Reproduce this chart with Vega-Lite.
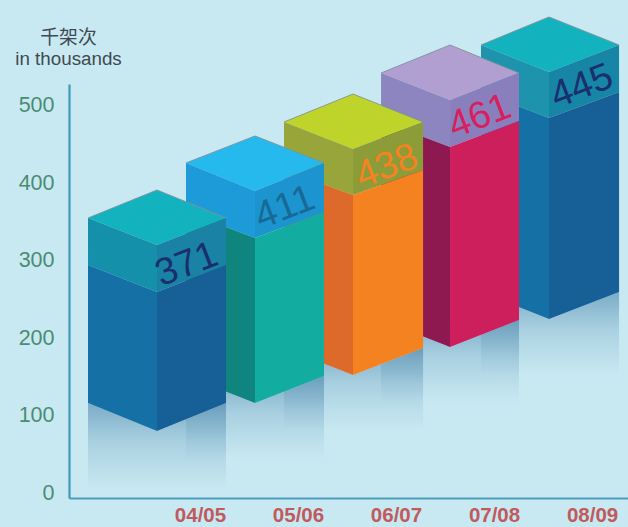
{"$schema":"https://vega.github.io/schema/vega-lite/v6.json","width":559,"height":414,"autosize":{"type":"none"},"padding":{"left":69,"top":84,"right":0,"bottom":29},"background":"#c8e9f2","config":{"view":{"stroke":null}},
"datasets":{
"reflections":[
{"bar":"08/09","x":3.867,"y":258.4,"y2":151.2},{"bar":"08/09","x":4.561,"y":223.5,"y2":151.2},{"bar":"08/09","x":5.276,"y":258.4,"y2":151.2},
{"bar":"07/08","x":2.847,"y":222.2,"y2":115.0},{"bar":"07/08","x":3.551,"y":187.3,"y2":115.0},{"bar":"07/08","x":4.255,"y":222.2,"y2":115.0},
{"bar":"06/07","x":1.857,"y":186.0,"y2":80.1},{"bar":"06/07","x":2.561,"y":151.2,"y2":80.1},{"bar":"06/07","x":3.276,"y":186.0,"y2":80.1},
{"bar":"05/06","x":0.857,"y":149.9,"y2":41.3},{"bar":"05/06","x":1.561,"y":115.0,"y2":41.3},{"bar":"05/06","x":2.265,"y":149.9,"y2":41.3},
{"bar":"04/05","x":-0.143,"y":115.0,"y2":2.6},{"bar":"04/05","x":0.561,"y":78.8,"y2":2.6},{"bar":"04/05","x":1.265,"y":115.0,"y2":2.6}],
"faces":[
{"bar":"08/09","face":"5 top","x":3.867,"y":577.5,"y2":577.5},{"bar":"08/09","face":"5 top","x":4.561,"y":613.7,"y2":542.6},{"bar":"08/09","face":"5 top","x":5.276,"y":577.5,"y2":577.5},
{"bar":"08/09","face":"5 bandL","x":3.867,"y":577.5,"y2":516.8},{"bar":"08/09","face":"5 bandL","x":4.561,"y":542.6,"y2":483.2},
{"bar":"08/09","face":"5 bandR","x":4.561,"y":542.6,"y2":483.2},{"bar":"08/09","face":"5 bandR","x":5.276,"y":577.5,"y2":516.8},
{"bar":"08/09","face":"5 lowL","x":3.867,"y":516.8,"y2":258.4},{"bar":"08/09","face":"5 lowL","x":4.561,"y":483.2,"y2":223.5},
{"bar":"08/09","face":"5 lowR","x":4.561,"y":483.2,"y2":223.5},{"bar":"08/09","face":"5 lowR","x":5.276,"y":516.8,"y2":258.4},
{"bar":"07/08","face":"4 top","x":2.847,"y":541.3,"y2":541.3},{"bar":"07/08","face":"4 top","x":3.551,"y":577.5,"y2":506.5},{"bar":"07/08","face":"4 top","x":4.255,"y":541.3,"y2":541.3},
{"bar":"07/08","face":"4 bandL","x":2.847,"y":541.3,"y2":479.3},{"bar":"07/08","face":"4 bandL","x":3.551,"y":506.5,"y2":445.7},
{"bar":"07/08","face":"4 bandR","x":3.551,"y":506.5,"y2":445.7},{"bar":"07/08","face":"4 bandR","x":4.255,"y":541.3,"y2":479.3},
{"bar":"07/08","face":"4 lowL","x":2.847,"y":479.3,"y2":222.2},{"bar":"07/08","face":"4 lowL","x":3.551,"y":445.7,"y2":187.3},
{"bar":"07/08","face":"4 lowR","x":3.551,"y":445.7,"y2":187.3},{"bar":"07/08","face":"4 lowR","x":4.255,"y":479.3,"y2":222.2},
{"bar":"06/07","face":"3 top","x":1.857,"y":478.0,"y2":478.0},{"bar":"06/07","face":"3 top","x":2.561,"y":514.2,"y2":443.2},{"bar":"06/07","face":"3 top","x":3.276,"y":478.0,"y2":478.0},
{"bar":"06/07","face":"3 bandL","x":1.857,"y":478.0,"y2":416.0},{"bar":"06/07","face":"3 bandL","x":2.561,"y":443.2,"y2":383.7},
{"bar":"06/07","face":"3 bandR","x":2.561,"y":443.2,"y2":383.7},{"bar":"06/07","face":"3 bandR","x":3.276,"y":478.0,"y2":416.0},
{"bar":"06/07","face":"3 lowL","x":1.857,"y":416.0,"y2":186.0},{"bar":"06/07","face":"3 lowL","x":2.561,"y":383.7,"y2":151.2},
{"bar":"06/07","face":"3 lowR","x":2.561,"y":383.7,"y2":151.2},{"bar":"06/07","face":"3 lowR","x":3.276,"y":416.0,"y2":186.0},
{"bar":"05/06","face":"2 top","x":0.857,"y":425.1,"y2":425.1},{"bar":"05/06","face":"2 top","x":1.561,"y":460.0,"y2":388.9},{"bar":"05/06","face":"2 top","x":2.265,"y":425.1,"y2":425.1},
{"bar":"05/06","face":"2 bandL","x":0.857,"y":425.1,"y2":361.8},{"bar":"05/06","face":"2 bandL","x":1.561,"y":388.9,"y2":328.2},
{"bar":"05/06","face":"2 bandR","x":1.561,"y":388.9,"y2":328.2},{"bar":"05/06","face":"2 bandR","x":2.265,"y":425.1,"y2":361.8},
{"bar":"05/06","face":"2 lowL","x":0.857,"y":361.8,"y2":149.9},{"bar":"05/06","face":"2 lowL","x":1.561,"y":328.2,"y2":115.0},
{"bar":"05/06","face":"2 lowR","x":1.561,"y":328.2,"y2":115.0},{"bar":"05/06","face":"2 lowR","x":2.265,"y":361.8,"y2":149.9},
{"bar":"04/05","face":"1 top","x":-0.143,"y":354.0,"y2":354.0},{"bar":"04/05","face":"1 top","x":0.561,"y":390.2,"y2":319.1},{"bar":"04/05","face":"1 top","x":1.265,"y":354.0,"y2":354.0},
{"bar":"04/05","face":"1 bandL","x":-0.143,"y":354.0,"y2":293.3},{"bar":"04/05","face":"1 bandL","x":0.561,"y":319.1,"y2":258.4},
{"bar":"04/05","face":"1 bandR","x":0.561,"y":319.1,"y2":258.4},{"bar":"04/05","face":"1 bandR","x":1.265,"y":354.0,"y2":293.3},
{"bar":"04/05","face":"1 lowL","x":-0.143,"y":293.3,"y2":115.0},{"bar":"04/05","face":"1 lowL","x":0.561,"y":258.4,"y2":78.8},
{"bar":"04/05","face":"1 lowR","x":0.561,"y":258.4,"y2":78.8},{"bar":"04/05","face":"1 lowR","x":1.265,"y":293.3,"y2":115.0}],
"labels":[
{"bar":"04/05","value":371,"x":0.867,"y":293.3},{"bar":"05/06","value":411,"x":1.867,"y":366.9},{"bar":"06/07","value":438,"x":2.908,"y":419.9},{"bar":"07/08","value":461,"x":3.857,"y":484.5},{"bar":"08/09","value":445,"x":4.898,"y":523.3}]},
"layer":[
{"data":{"name":"reflections"},"mark":{"type":"area","clip":false,"fill":{"gradient":"linear","x1":0,"y1":0,"x2":0,"y2":1,"stops":[{"offset":0,"color":"rgba(72,130,170,0.6)"},{"offset":0.45,"color":"rgba(72,130,170,0.24)"},{"offset":1,"color":"rgba(72,130,170,0)"}]}},
"encoding":{"detail":{"field":"bar"},
"x":{"field":"x","type":"quantitative","scale":{"domain":[-0.337,5.367],"nice":false,"zero":false},
"axis":{"title":null,"values":[1,2,3,4,5],"labelExpr":"['04/05','05/06','06/07','07/08','08/09'][datum.value-1]","grid":false,"ticks":false,"domainColor":"#4c9cbb","domainWidth":2.2,"labelColor":"#c05a5c","labelFont":"Liberation Sans","labelFontSize":20.5,"labelFontWeight":"bold","labelPadding":7,"labelOverlap":false,"labelFlush":false}},
"y":{"field":"y","type":"quantitative","stack":null,"scale":{"domain":[-7.75,527.1],"nice":false,"zero":false},
"axis":{"title":["千架次","in thousands"],"titleAngle":0,"titleX":-1,"titleY":-47,"titleAlign":"center","titleBaseline":"middle","titleFont":"Liberation Sans, Noto Sans CJK SC","titleFontSize":18.8,"titleFontWeight":"normal","titleColor":"#3f4a50","titleLineHeight":21,"values":[0,100,200,300,400,500],"grid":false,"ticks":false,"domainColor":"#3f9ab8","domainWidth":2.2,"labelColor":"#4a8c72","labelFont":"Liberation Sans","labelFontSize":21.5,"labelPadding":15,"labelOffset":1,"labelOverlap":false,"labelFlush":false}},
"y2":{"field":"y2"}}},
{"data":{"name":"faces"},"mark":{"type":"area","clip":false},
"encoding":{"detail":{"field":"bar"},
"color":{"field":"face","type":"nominal","legend":null,"scale":{"domain":["1 top","1 bandL","1 bandR","1 lowL","1 lowR","2 top","2 bandL","2 bandR","2 lowL","2 lowR","3 top","3 bandL","3 bandR","3 lowL","3 lowR","4 top","4 bandL","4 bandR","4 lowL","4 lowR","5 top","5 bandL","5 bandR","5 lowL","5 lowR"],
"range":["#12b3bf","#1590aa","#1a82a5","#1570a5","#175f97","#25b9ee","#1d9ad8","#1c94d0","#0f857e","#12ada0","#bfd42a","#97a53a","#8b9c38","#dd692b","#f58220","#b09fd0","#8d85c0","#8a7fbd","#8e1850","#cc1f5b","#12b3bf","#1e93ad","#1785a5","#1570a5","#175f97"]}},
"x":{"field":"x","type":"quantitative"},"y":{"field":"y","type":"quantitative","stack":null},"y2":{"field":"y2"}}},
{"data":{"name":"faces"},"transform":[{"filter":"indexof(datum.face,'top')>=0"}],"mark":{"type":"line","clip":false,"color":"#7f9298","strokeWidth":0.9},
"encoding":{"detail":{"field":"bar"},"x":{"field":"x","type":"quantitative"},"y":{"field":"y","type":"quantitative"}}},
{"data":{"name":"labels"},"mark":{"type":"text","clip":false,"angle":339,"align":"center","baseline":"middle","font":"Liberation Sans","fontSize":38},
"encoding":{"text":{"field":"value","type":"quantitative"},"x":{"field":"x","type":"quantitative"},"y":{"field":"y","type":"quantitative"},
"color":{"field":"bar","type":"nominal","legend":null,"scale":{"domain":["04/05","05/06","06/07","07/08","08/09"],"range":["#1a2f6e","#176a95","#f58220","#d81f5e","#1a2f6e"]}}}}
],"resolve":{"scale":{"color":"independent"}}}
